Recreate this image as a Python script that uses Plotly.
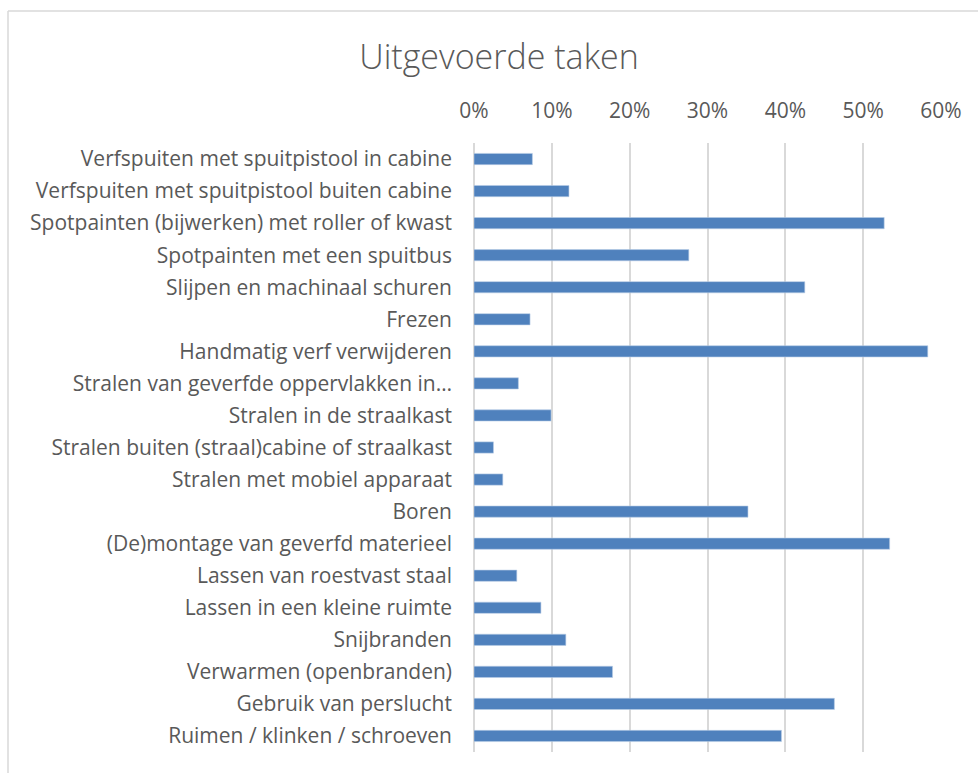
import plotly.graph_objects as go

# data (top to bottom, as shown)
taken = [
    "Verfspuiten met spuitpistool in cabine",
    "Verfspuiten met spuitpistool buiten cabine",
    "Spotpainten (bijwerken) met roller of kwast",
    "Spotpainten met een spuitbus",
    "Slijpen en machinaal schuren",
    "Frezen",
    "Handmatig verf verwijderen",
    "Stralen van geverfde oppervlakken in…",
    "Stralen in de straalkast",
    "Stralen buiten (straal)cabine of straalkast",
    "Stralen met mobiel apparaat",
    "Boren",
    "(De)montage van geverfd materieel",
    "Lassen van roestvast staal",
    "Lassen in een kleine ruimte",
    "Snijbranden",
    "Verwarmen (openbranden)",
    "Gebruik van perslucht",
    "Ruimen / klinken / schroeven",
]
aandeel = [0.075, 0.122, 0.527, 0.276, 0.425, 0.072, 0.583, 0.057, 0.099,
           0.025, 0.037, 0.352, 0.534, 0.055, 0.086, 0.118, 0.178, 0.463, 0.395]

x_ticks = [0, 0.1, 0.2, 0.3, 0.4, 0.5, 0.6]

W, H = 978, 773
L, R, T, B = 474, 37, 143, 21
pw, ph = W - L - R, H - T - B

fig = go.Figure(go.Bar(
    x=aandeel, y=taken, orientation="h",
    marker=dict(color="#4F81BD", line=dict(color="#B9CDE5", width=0.6)),
    width=0.35,
))

fig.update_layout(
    width=W, height=H,
    margin=dict(l=L, r=R, t=T, b=B),
    paper_bgcolor="white", plot_bgcolor="white",
    font=dict(family="Open Sans", size=21, color="#595959"),
    title=dict(text="Uitgevoerde taken", x=(499 - L) / pw, xref="paper",
               xanchor="center", y=1 - 57 / H, yanchor="middle",
               font=dict(family="Open Sans", size=34, color="#595959", weight=300)),
    showlegend=False,
    shapes=[
        # chart border: only top and left edges fall inside the picture
        dict(type="line", xref="paper", yref="paper",
             x0=(8 - L) / pw, x1=(W - L) / pw,
             y0=1 + (T - 11) / ph, y1=1 + (T - 11) / ph,
             line=dict(color="#D9D9D9", width=1.5)),
        dict(type="line", xref="paper", yref="paper",
             x0=(8 - L) / pw, x1=(8 - L) / pw,
             y0=-B / ph, y1=1 + (T - 11) / ph,
             line=dict(color="#D9D9D9", width=1.5)),
    ],
)

fig.update_xaxes(
    side="top", range=[0, 0.6], tickvals=x_ticks, tickformat=".0%",
    showgrid=True, gridcolor="#D9D9D9", gridwidth=1.5,
    zeroline=True, zerolinecolor="#D9D9D9", zerolinewidth=1.5,
    showline=False, ticks="", ticklabelstandoff=20,
    tickfont=dict(size=21),
)
fig.update_yaxes(
    autorange="reversed", showgrid=False, showline=False, ticks="",
    ticklabelstandoff=21, tickfont=dict(size=21),
)

# drop the default 8px page margin so the figure sits at the window's corner
fig.write_html("out.html", config={"displayModeBar": False},
               post_script="document.body.style.margin='0';")
